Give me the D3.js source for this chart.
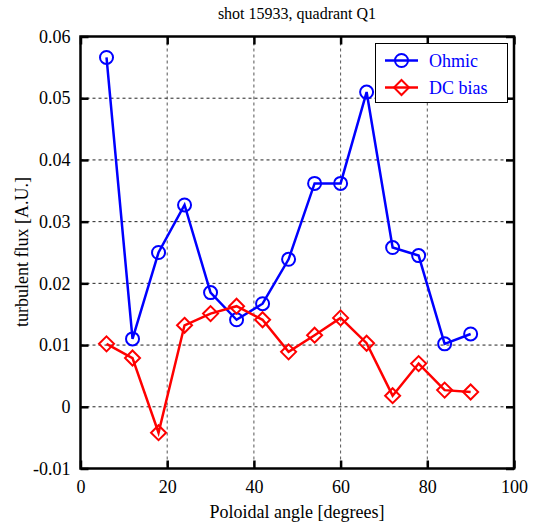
<!DOCTYPE html>
<html><head><meta charset="utf-8">
<script src="https://cdn.jsdelivr.net/npm/d3@7"></script>
<style>body{margin:0;background:#fff;}svg{display:block;}</style>
</head><body>
<svg id="c" width="533" height="526"></svg>
<script>
const angles = [6,12,18,24,30,36,42,48,54,60,66,72,78,84,90];
const ohmic  = [0.0566,0.0110,0.0250,0.0327,0.0185,0.0141,0.0167,0.0239,0.0362,0.0362,0.0510,0.0258,0.0245,0.0102,0.0118];
const dcbias = [0.0102,0.0079,-0.0042,0.0132,0.0151,0.0163,0.0141,0.0089,0.0116,0.0144,0.0103,0.0018,0.0070,0.0027,0.0024];
const xTicks = [0,20,40,60,80,100];
const yTicks = [-0.01,0,0.01,0.02,0.03,0.04,0.05,0.06];
const yTickLabels = ["-0.01","0","0.01","0.02","0.03","0.04","0.05","0.06"];
const seriesNames = ["Ohmic","DC bias"];
const colors = ["#0000ff","#ff0000"];

const FONT="'Liberation Serif'";
const L=80.5,R=514,T=36.5,B=468.5;
const svg=d3.select("#c");
const x=d3.scaleLinear().domain([0,100]).range([L,R]);
const y=d3.scaleLinear().domain([-0.01,0.06]).range([B,T]);

// grid
const g=svg.append("g");
g.selectAll(".vg").data(xTicks.slice(1,-1)).enter().append("line")
 .attr("x1",d=>x(d)).attr("x2",d=>x(d)).attr("y1",T).attr("y2",B)
 .attr("stroke","#555").attr("stroke-width",1).attr("stroke-dasharray","3,3");
g.selectAll(".hg").data(yTicks.slice(1,-1)).enter().append("line")
 .attr("y1",d=>y(d)).attr("y2",d=>y(d)).attr("x1",L).attr("x2",R)
 .attr("stroke","#222").attr("stroke-width",1).attr("stroke-dasharray","3,3");

// axes (inward ticks)
const ax=svg.append("g");
ax.append("g").attr("transform",`translate(0,${B})`)
 .call(d3.axisBottom(x).tickValues(xTicks).tickSize(-8).tickPadding(12).tickFormat(d3.format("d")))
 .call(s=>{s.attr("font-family",null);s.select(".domain").remove();s.selectAll(".tick line").attr("stroke","#000").attr("stroke-width",2.5);
   s.selectAll("text").attr("font-size",18).attr("fill","#000").style("font-family",FONT);});
ax.append("g").attr("transform",`translate(0,${T})`)
 .call(d3.axisTop(x).tickValues(xTicks).tickSize(-8).tickFormat(""))
 .call(s=>{s.select(".domain").remove();s.selectAll(".tick line").attr("stroke","#000").attr("stroke-width",2.5);});
ax.append("g").attr("transform",`translate(${L},0)`)
 .call(d3.axisLeft(y).tickValues(yTicks).tickSize(-8).tickPadding(10).tickFormat((d,i)=>yTickLabels[i]))
 .call(s=>{s.attr("font-family",null);s.select(".domain").remove();s.selectAll(".tick line").attr("stroke","#000").attr("stroke-width",2.5);
   s.selectAll("text").attr("font-size",18).attr("fill","#000").style("font-family",FONT);});
ax.append("g").attr("transform",`translate(${R},0)`)
 .call(d3.axisRight(y).tickValues(yTicks).tickSize(-8).tickFormat(""))
 .call(s=>{s.select(".domain").remove();s.selectAll(".tick line").attr("stroke","#000").attr("stroke-width",2.5);});
svg.append("rect").attr("x",L).attr("y",T).attr("width",R-L).attr("height",B-T)
 .attr("fill","none").attr("stroke","#000").attr("stroke-width",2.5);

// series
const line=d3.line().x((d,i)=>x(angles[i])).y(d=>y(d));
const diamond=(cx,cy,r)=>`M${cx},${cy-r}L${cx+r},${cy}L${cx},${cy+r}L${cx-r},${cy}Z`;
[ohmic,dcbias].forEach((vals,k)=>{
  svg.append("path").datum(vals).attr("d",line).attr("fill","none")
    .attr("stroke",colors[k]).attr("stroke-width",2.5);
  if(k===0){
    svg.selectAll(".m0").data(vals).enter().append("circle")
     .attr("cx",(d,i)=>x(angles[i])).attr("cy",d=>y(d)).attr("r",6.5)
     .attr("fill","none").attr("stroke",colors[k]).attr("stroke-width",2);
  } else {
    svg.selectAll(".m1").data(vals).enter().append("path")
     .attr("d",(d,i)=>diamond(x(angles[i]),y(d),7.5))
     .attr("fill","none").attr("stroke",colors[k]).attr("stroke-width",2);
  }
});

// legend
const lg=svg.append("g");
lg.append("rect").attr("x",375.5).attr("y",43.5).attr("width",132).attr("height",59)
 .attr("fill","#fff").attr("stroke","#000").attr("stroke-width",1);
seriesNames.forEach((n,k)=>{
  const yy=[60.5,87.5][k];
  lg.append("line").attr("x1",385).attr("x2",418).attr("y1",yy).attr("y2",yy)
    .attr("stroke",colors[k]).attr("stroke-width",2.5);
  if(k===0) lg.append("circle").attr("cx",401.5).attr("cy",yy).attr("r",6.5).attr("fill","none").attr("stroke",colors[k]).attr("stroke-width",2);
  else lg.append("path").attr("d",diamond(401.5,yy,7.5)).attr("fill","none").attr("stroke",colors[k]).attr("stroke-width",2);
  lg.append("text").attr("x",429).attr("y",yy+6).attr("font-size",18).attr("fill","#0000ff").style("font-family",FONT).text(n);
});

// titles
svg.append("text").attr("x",297).attr("y",19).attr("text-anchor","middle").attr("font-size",16).style("font-family",FONT).text("shot 15933, quadrant Q1");
svg.append("text").attr("x",297).attr("y",518).attr("text-anchor","middle").attr("font-size",18).style("font-family",FONT).text("Poloidal angle [degrees]");
svg.append("text").attr("transform","translate(28,252) rotate(-90)").attr("text-anchor","middle").attr("font-size",18).style("font-family",FONT).text("turbulent flux [A.U.]");
</script>
</body></html>
